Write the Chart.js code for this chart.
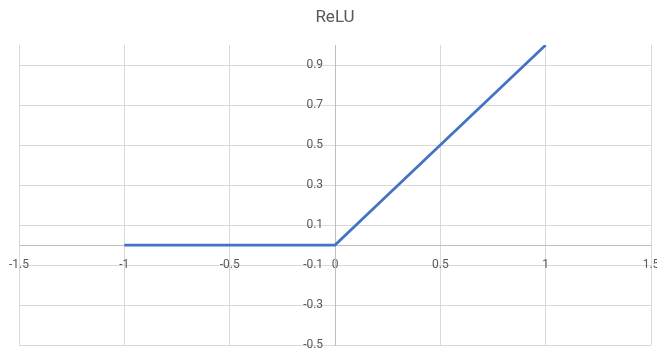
<!DOCTYPE html>
<html>
<head>
<meta charset="utf-8">
<script src="https://cdn.jsdelivr.net/npm/chart.js@4/dist/chart.umd.min.js"></script>
<style>
  html, body { margin: 0; padding: 0; background: #ffffff; }
  #wrap { width: 657px; height: 351px; }
</style>
</head>
<body>
<div id="wrap"><canvas id="chart" width="657" height="351"></canvas></div>
<script>
// ReLU sampled at a few inputs
const xValues = [-1, -0.8, -0.6, -0.4, -0.2, 0, 0.2, 0.4, 0.6, 0.8, 1];
const reluValues = [0, 0, 0, 0, 0, 0, 0.2, 0.4, 0.6, 0.8, 1];

// Axis tick positions
const xTicks = [-1.5, -1, -0.5, 0, 0.5, 1, 1.5];
const yTicks = [-0.5, -0.3, -0.1, 0.1, 0.3, 0.5, 0.7, 0.9];

const FONT = 'Roboto, Liberation Sans, Arial, sans-serif';
const TEXT = '#595959';
const GRID = '#d9d9d9';
const AXIS = '#bfbfbf';

// y labels sit left of the centred axis; trailing spaces keep a gap from it
const Y_LABEL_GAP = '    ';

const points = xValues.map((x, i) => ({ x: x, y: reluValues[i] }));

new Chart(document.getElementById('chart'), {
  type: 'line',
  data: {
    datasets: [{
      label: 'ReLU',
      data: points,
      borderColor: '#4472C4',
      backgroundColor: '#4472C4',
      borderWidth: 2.75,
      pointRadius: 0,
      tension: 0,
      fill: false
    }]
  },
  options: {
    responsive: false,
    animation: false,
    devicePixelRatio: 1,
    layout: { padding: { left: 19, right: 6, top: 0, bottom: 6 } },
    plugins: {
      legend: { display: false },
      tooltip: { enabled: false },
      title: {
        display: true,
        text: 'ReLU',
        color: TEXT,
        font: { family: FONT, size: 17, weight: 'normal', lineHeight: '21px' },
        padding: { top: 7, bottom: 17 }
      }
    },
    scales: {
      x: {
        type: 'linear',
        min: -1.5,
        max: 1.5,
        position: { y: 0 },
        afterBuildTicks: s => { s.ticks = xTicks.map(v => ({ value: v })); },
        afterFit: s => { s.height = 0; s.paddingLeft = 0; s.paddingRight = 0; },
        grid: { color: GRID, lineWidth: 1, drawTicks: true, tickLength: 10, tickColor: 'rgba(0,0,0,0)' },
        border: { color: AXIS, width: 1 },
        ticks: {
          color: TEXT,
          font: { family: FONT, size: 12 },
          maxRotation: 0,
          autoSkip: false,
          callback: v => String(v)
        }
      },
      y: {
        type: 'linear',
        min: -0.5,
        max: 1.0,
        position: { x: 0 },
        afterBuildTicks: s => { s.ticks = yTicks.map(v => ({ value: v })); },
        afterFit: s => { s.width = 0; s.paddingTop = 0; s.paddingBottom = 0; },
        grid: { color: GRID, lineWidth: 1, drawTicks: false },
        border: { color: AXIS, width: 1 },
        ticks: {
          color: TEXT,
          font: { family: FONT, size: 12 },
          autoSkip: false,
          callback: v => String(v) + Y_LABEL_GAP
        }
      }
    }
  }
});
</script>
</body>
</html>
